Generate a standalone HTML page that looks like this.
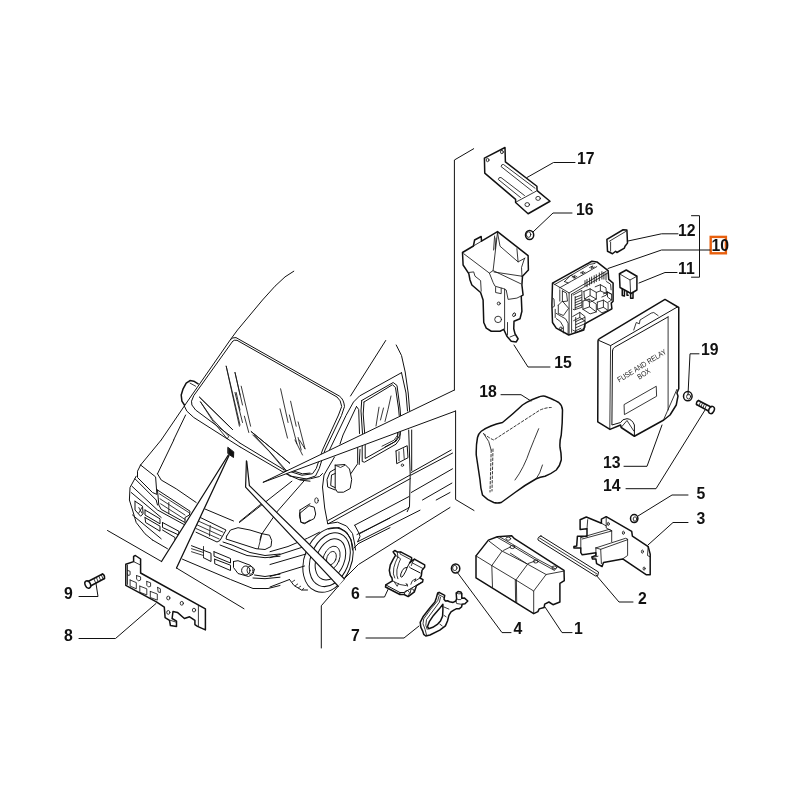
<!DOCTYPE html>
<html><head><meta charset="utf-8">
<style>
html,body{margin:0;padding:0;background:#fff;}
svg{display:block;}
text{font-family:"Liberation Sans",sans-serif;font-weight:bold;font-size:17px;fill:#111;}
.l{fill:none;stroke:#111;stroke-width:1;stroke-linecap:round;stroke-linejoin:round;}
.t{fill:none;stroke:#151515;stroke-width:0.85;stroke-linecap:round;stroke-linejoin:round;}
.b{fill:none;stroke:#111;stroke-width:1.5;stroke-linecap:round;stroke-linejoin:round;}
.w{fill:#fff;stroke:#111;stroke-width:1.5;stroke-linecap:round;stroke-linejoin:round;}
</style></head><body>
<svg width="800" height="800" viewBox="0 0 800 800">
<rect width="800" height="800" fill="#fff"/>
<!--LABELS-->
<g id="labels" style="opacity:0.999">
<text transform="translate(577,164) scale(.93,1)">17</text>
<text transform="translate(576,214.5) scale(.93,1)">16</text>
<text transform="translate(678,236) scale(.93,1)">12</text>
<text transform="translate(678,274) scale(.93,1)">11</text>
<text transform="translate(554.3,367.5) scale(.93,1)">15</text>
<text transform="translate(479.3,396.5) scale(.93,1)">18</text>
<text transform="translate(701,355) scale(.93,1)">19</text>
<text transform="translate(603,467.5) scale(.93,1)">13</text>
<text transform="translate(603,491) scale(.93,1)">14</text>
<text transform="translate(696.5,498.5) scale(.93,1)">5</text>
<text transform="translate(696.5,524) scale(.93,1)">3</text>
<text transform="translate(638,603.5) scale(.93,1)">2</text>
<text transform="translate(574,633.5) scale(.93,1)">1</text>
<text transform="translate(513.5,633.5) scale(.93,1)">4</text>
<text transform="translate(351,598.8) scale(.93,1)">6</text>
<text transform="translate(351,640.5) scale(.93,1)">7</text>
<text transform="translate(64,598.5) scale(.93,1)">9</text>
<text transform="translate(64,641) scale(.93,1)">8</text>
<rect x="710.7" y="236.9" width="15.2" height="16.4" fill="none" stroke="#e8600e" stroke-width="2.4"/>
<text transform="translate(711.5,251) scale(.93,1)">10</text>
</g>
<!--LEADERS-->
<g id="leaders" class="l">
<path d="M575 162.500H553.500L527 177.500"/>
<path d="M572 213H553L533 232"/>
<path d="M678 233.800H661.500L628 241"/>
<path d="M710 250H661.500L608 268.500"/>
<path d="M677 272.500H665L639 283"/>
<path d="M691.500 215.700H699.500V277.200H691.500"/>
<path d="M550 367H528L514 345"/>
<path d="M501 394.700H521L531 401"/>
<path d="M699 353.800H690L688 395"/>
<path d="M624 466.300H647L662 425"/>
<path d="M626 488.700H656L705 410"/>
<path d="M688 495H672L638 516"/>
<path d="M688 522.500H673L648 545"/>
<path d="M633 602H619L596 575"/>
<path d="M572 632.600H562L545 607"/>
<path d="M511 632.600H502L457 572"/>
<path d="M366 597H384.500L388 589.500"/>
<path d="M366 638H404L419 626"/>
<path d="M79 596.500H98L96 583.500"/>
<path d="M79 638.500H115.500L156 603.500"/>
</g>
<!--LONGLINES-->
<!--VAN-->
<g id="van">
<path class="l"  d="M293.8 271.2L285.0 276.9L275.0 286.2L262.5 300.0L250.0 315.0L237.5 330.0L230.6 339.4"/>
<path class="l" d="M230.600 339.400Q232.500 337.200 236 337.600L339.250 396Q343.750 399 344.500 406.500L341.500 415.500L325 450L319.250 468.500L315.500 476L306.500 479L290 476"/>
<path class="l" d="M232.400 341.400Q234 339.500 237 340.300L337 397Q341 400 341.700 406.500L338.500 415L322.500 450L316.250 468.500L312.500 473.750L302 475.250L290 471.500"/>
<path class="l"  d="M230.6 339.4L185.0 405.0L161.2 440.0M232.5 341.5L193.8 395.6L191.5 401.2L191.9 405.0L195.6 410.0L240.0 443.1M184.4 406.2L186.9 411.2L193.8 417.5L240.0 446.9M185.6 415.0L173.6 440.0"/>
<path class="b"  d="M198.1 383.8L193.8 381.2L190.0 380.6L186.2 383.1L183.1 388.8L181.2 395.0L181.9 401.2L184.4 405.0"/>
<path class="t"  d="M190.0 383.1L195.6 386.2M226.2 366.2L240.0 425.0M235.0 372.5L240.0 395.0M236.2 392.5L240.0 410.0"/>
<path class="t"  d="M226.2 366.2L239.4 426.2M235.0 372.5L242.5 405.0M235.0 392.5L242.5 422.5M241.2 386.2L250.6 426.2M244.4 416.2L248.8 432.5M280.6 388.8L288.1 422.5M280.0 408.8L287.5 438.1M290.6 401.2L296.2 426.2M289.4 415.0L296.9 443.8M298.1 421.9L305.0 448.8M298.1 437.5L301.2 450.0"/>
<path class="l"  d="M385.7 340.5L350.5 396.0M396.2 345.0L401.5 355.5L405.2 372.0L408.2 393.0L409.7 411.0M401.5 372.7L359.5 396.0L353.5 402.0L346.0 415.5L329.5 450.0M361.7 400.5L393.2 382.5L397.0 385.5L400.0 408.0L400.7 417.0L400.0 435.0L396.2 441.0L385.0 447.0M361.7 400.5L361.0 411.0L362.5 433.5M364.0 402.0L392.5 384.7L395.5 387.7L398.5 408.0L399.2 415.5M364.0 402.0L363.2 414.0L364.7 433.5M356.5 406.5L358.7 409.5L359.5 433.5M356.5 406.5L343.0 435.0L340.0 444.0M401.5 372.7L406.0 393.0L407.5 411.0"/>
<path class="t"  d="M379.0 407.2L376.0 426.0M383.5 408.0L380.5 420.0M391.0 396.0L388.0 409.5L385.0 421.5M397.7 426.0L397.7 435.0L394.0 440.2L382.0 446.2"/>
<path class="l"  d="M140.6 465.0L155.6 476.9L156.9 494.4L152.5 492.5L137.5 477.5L137.5 471.2L140.6 465.0M157.5 473.8L161.2 480.0L176.2 488.8L196.2 502.5M157.5 490.0L190.0 511.2L189.4 515.0L185.0 517.5L185.0 522.5L161.2 509.4L158.8 505.0L157.5 490.0M136.2 476.2L130.0 487.5L129.4 500.0L132.5 510.0L136.2 522.5L145.0 533.8L152.5 540.0M135.0 478.8L156.2 500.0L157.5 505.0M131.9 486.2L157.5 510.0L185.0 525.0M131.2 492.5L161.2 517.5M135.0 501.2L142.5 506.2L143.1 513.8L140.6 516.2L135.0 510.0L135.0 501.2M145.0 510.0L160.0 518.8L160.0 523.8L145.0 515.0L145.0 510.0M145.0 517.5L160.0 526.2L160.0 531.2L145.6 522.5L145.0 517.5M162.5 522.5L178.8 531.2L178.8 535.0L162.5 527.5L162.5 522.5M162.5 530.0L175.0 537.5L175.0 540.0M132.5 515.0L161.2 538.8"/>
<path class="t"  d="M159.4 493.8L188.8 512.5M160.0 498.8L185.0 515.0M160.6 503.8L185.0 519.4M168.8 502.5L168.8 513.8M138.8 507.5L141.9 513.1M138.8 513.1L141.9 507.5"/>
<path class="l"  d="M291.9 481.2L239.4 522.5M303.8 481.2L277.5 511.2L261.2 535.0L260.0 540.0M283.8 471.2L291.2 476.2L300.0 480.0L310.0 481.2M290.0 470.0L302.5 473.8L310.0 473.1M300.0 510.0L310.0 503.8M300.0 510.0L299.4 516.2L301.2 522.5L305.0 523.1L310.0 520.0"/>
<path class="t"  d="M295.0 440.0L302.5 455.0M299.4 440.0L305.0 448.8"/>
<path class="l"  d="M335.2 465.2L345.0 464.5L349.5 469.0L351.7 479.5L350.2 488.5L343.5 492.2L337.5 492.2L335.2 488.5L335.2 465.2M335.2 469.0L330.0 472.0L327.0 479.5L327.7 487.0L335.2 490.0M335.2 473.5L331.5 475.0L330.7 485.5L335.2 487.7M334.5 457.0L324.0 475.0L322.5 487.0L324.7 508.0L327.7 523.7M357.7 445.0L357.7 463.7L354.0 469.0L351.0 473.5M360.0 449.5L359.2 464.5M362.2 445.0L362.2 461.5L364.5 462.2L396.0 444.2L399.7 439.0L400.5 430.0M365.2 445.0L365.2 458.5L394.5 442.0L397.5 437.5L398.2 430.0M396.0 451.0L407.2 445.7L408.0 457.7L396.7 463.7L396.0 451.0M408.7 430.0L410.2 475.0L409.5 506.5L407.2 511.7M411.7 430.0L411.7 470.5M327.7 520.7L410.2 475.0M328.5 523.7L410.2 478.7M354.7 525.2L408.7 496.7M360.0 533.5L407.2 508.7L409.5 506.5M357.7 541.7L420.0 510.2M354.7 525.2L359.2 533.5L360.0 536.5L357.7 541.7M327.7 523.7L337.5 522.2L346.5 526.0L352.5 533.5L354.7 544.0L355.5 550.0M328.5 529.0L339.0 527.5L346.5 532.0L351.0 539.5L352.5 550.0M300.0 513.2L309.0 505.7L314.2 507.2L315.7 514.0L314.2 518.5L304.5 523.7L300.7 522.2L300.0 513.2M300.0 479.5L310.5 478.7L319.5 476.5L322.5 473.5"/>
<path class="t"  d="M399.0 451.7L399.0 460.7M403.5 448.7L404.2 458.5M335.2 465.2L340.5 467.5L345.0 465.2"/>
<ellipse class="t" cx="402.4" cy="465.2" rx="1.2" ry="1.2"/>
<ellipse class="t" cx="316.5" cy="500.5" rx="1.8" ry="2.700"/>
<g transform="rotate(22 328.0 560.0)">
<ellipse class="l" cx="328.0" cy="560.0" rx="23.5" ry="33.5"/>
<ellipse class="l" cx="329.5" cy="559.0" rx="19" ry="28"/>
<ellipse class="l" cx="330.0" cy="558.5" rx="14" ry="21.5"/>
<ellipse class="t" cx="330.5" cy="557.0" rx="8" ry="12.5"/>
<ellipse class="t" cx="330.5" cy="557.0" rx="4.5" ry="7"/>
</g>
<path class="l"  d="M289.5 579.5L294.0 585.5L301.5 590.0L307.5 590.0M358.5 543.5L390.0 527.7M354.0 548.0L358.5 543.5M357.0 534.5L390.0 518.0M270.0 551.7L288.0 546.5L307.5 538.2L319.5 532.2M270.0 557.7L304.5 546.5M270.0 564.5L306.0 554.0M270.0 576.5L304.5 566.0M270.0 587.0L289.5 579.5"/>
<path class="t"  d="M292.5 581.7L294.7 580.2M295.5 585.5L297.7 584.0M298.5 587.7L300.7 586.2M302.2 590.0L303.7 588.2"/>
<path class="l"  d="M411.2 472.5L451.2 450.0M411.2 475.0L452.5 453.1M411.2 492.5L452.5 468.8M422.5 500.0L451.9 483.1M436.2 500.0L450.0 492.5"/>
<path class="l"  d="M205.0 509.0L233.5 521.0M239.5 521.7L260.5 504.5M226.7 536.0L230.5 530.0L238.0 527.7L250.0 530.0L262.0 533.7L269.5 535.2L271.7 540.5L271.0 546.5L265.0 549.5L256.0 548.7L226.0 539.0L226.7 536.0M199.7 517.2L226.0 530.0L220.0 540.5L217.0 542.0L196.0 532.2M191.5 545.7L211.0 553.2L211.0 561.5L203.5 557.7M214.0 551.7L230.5 558.5L230.5 563.0L214.0 556.2L214.0 551.7M214.7 559.2L230.5 565.2L230.5 570.5L214.7 563.7L214.7 559.2M233.5 561.5L238.0 560.7L250.0 565.2L254.5 569.0L253.0 574.2L248.5 576.5L238.0 573.5L233.5 567.5L233.5 561.5M223.0 542.0L232.0 545.0L250.0 552.5L265.0 555.5L280.0 554.0M220.0 545.0L247.0 555.5L265.0 557.7L280.0 556.2M182.5 559.2L230.5 579.5L253.0 588.5L268.0 588.5L280.0 585.5M254.5 575.0L265.0 576.5L280.0 574.2M253.0 578.0L265.0 578.7L280.0 577.2"/>
<path class="t"  d="M198.2 521.0L223.0 532.2M196.7 524.7L221.5 536.0M196.0 528.5L219.2 539.0M210.2 525.5L209.5 536.0M262.0 533.7L258.2 548.7M203.5 546.5L203.5 557.7M191.5 548.7L203.5 552.5M191.5 551.7L203.5 555.5"/>
<ellipse class="l" cx="245.8" cy="570.5" rx="4.2" ry="4.5"/>
<ellipse class="t" cx="250.0" cy="570.2" rx="3" ry="4"/>
<path class="l"  d="M161.2 440.0L140.6 465.0M173.8 440.0L157.5 473.8"/>
<path class="l" stroke-width="1.700" stroke="#222" d="M199.5 397.2L232.5 429.5M251.2 431.6L289.7 463.2"/>
<path class="t" stroke="#ddd" stroke-width="0.400" d="M199.5 397.2L232.5 429.5M251.2 431.6L289.7 463.2"/>
<path class="t" stroke="#111" d="M200.5 401.9L212.9 419.7L228.7 436.2L227.3 439.0L212.9 421.1L200.5 401.9M252.7 434.9L269.2 451.4L283.0 467.9L285.7 469.9L272.0 454.1L254.1 434.9"/>
<path class="l" d="M240 443.100L284.400 470L290 471.500M240 446.900L283 472L290 476"/>
<path class="l" d="M152.500 540L167.500 548.750"/>
</g>
<g id="longlines" class="l">
<path fill="#fff" stroke="none" d="M454.400 390L262.900 482.400L455.600 411Z"/>
<path fill="#fff" stroke="none" d="M228.300 455L161.500 561.500L176.500 568L229 455.500Z"/>
<path fill="#fff" stroke="none" d="M246.400 460.900L245.600 487.100L338.250 586.250L344.250 578.750L249.400 485.600L246.750 461.250Z"/>
<path d="M473.700 148.700L454.400 160V390"/>
<path d="M455.600 411V499.500L474 510.500"/>
<path d="M454.400 390L262.900 482.400L455.600 411"/>
<path stroke-width="1.300" d="M228.300 455L161.500 561.500"/><path d="M161.500 561.500L107.500 530.500"/>
<path stroke-width="1.300" d="M229 455.500L176.500 568"/><path d="M176.500 568L244 608.750"/>
<path stroke-width="1.200" d="M246.400 460.900L245.600 487.100L338.250 586.250"/><path d="M338.250 586.250L321.300 605.750V648"/>
<path stroke-width="1.200" d="M246.750 461.250L249.400 485.600L344.250 578.750"/><path d="M344.250 578.750L358.500 564.500L450 507.500"/>
<path fill="#111" d="M228.100 447.500L233.750 451.900L233.500 457.500L228.100 453.750Z"/>
</g>
<!--PARTS-->
<g id="p17">
<path class="b" d="M484.400 158.100L505 147.500L505.400 161.900L536.900 186.250L537.100 190.600L550 201.250L528.100 213.750L515.600 202.500L515.600 199.400L484.750 173.100Z"/>
<path class="t" d="M516.500 201.800L536.200 191.200"/>
<path class="t" d="M535 188.200L503.500 164.500Q501.500 164 501 166.500L532 191"/>
<path class="t" d="M524.500 195.500L501 177.500Q498.500 177 498.300 179.500L520.500 197.500"/>
<ellipse class="t" cx="487.600" cy="160" rx="1.400" ry="1.700"/>
<ellipse class="t" cx="501.900" cy="152" rx="1.400" ry="1.700"/>
<ellipse class="t" cx="527.250" cy="204.600" rx="2.300" ry="2"/>
<ellipse class="t" cx="538.100" cy="198.400" rx="2.300" ry="2"/>
</g>
<g id="p15">
<path class="b" d="M462.500 252.500L473.400 246L474.600 240L481.200 236.500L481.500 241.200L497.500 231.600L528.100 255.600L528.400 270L522.500 276.250L521.900 285L523.100 295L521.250 296.250L521.900 311.250L520 318.750L514 321.250L513.750 328.750L515 333.750L518.100 338.750L516.250 341.900L511.250 341.250L506.900 336.250L503.750 329.400L500 331.250L491.250 331.250L486.250 328.100L483.750 322.500L483.100 300L480.600 292.500L471.900 285L470 280L468.800 273.700L463.100 265Z"/>
<path class="t" d="M473.400 246L481.500 241.200"/>
<path class="t" d="M463.700 253.700L489.400 273.100L493.100 270.600L497.500 232.500"/>
<path class="t" d="M497.500 232.500L500 246.200L518.100 261.900L525 258.100M516.900 248.700L518.100 261.900"/>
<path class="t" d="M494.600 236L493.600 250M496 238L495.200 249"/>
<path class="t" d="M493.100 270.600L520.600 283.700M494 272L522.500 276.300"/>
<path class="t" d="M489.400 273.100L493.100 282.500L495 286.200L503.700 288.700L506.200 290L508.100 299.400L516.900 298.100L521.900 295.600"/>
<path class="t" d="M495.600 287.500L495.600 292.500L501.200 293.700L501.200 288.200"/>
<path class="t" d="M504.600 289L504.600 329"/>
<path class="t" d="M468.700 272.500L473.700 271.900L475 276.200L480.600 280.600L481.200 291.200"/>
<path class="t" d="M507.500 322.500V335M510 337L515 335"/>
<path class="t" d="M524.500 258.400L521.500 267.500L522 276.500"/>
<ellipse class="t" cx="498.100" cy="319.400" rx="3.400" ry="3.200"/>
<ellipse class="t" cx="498.750" cy="303.500" rx="1.500" ry="1.500"/>
<ellipse class="t" cx="514.100" cy="314.750" rx="1.300" ry="2" transform="rotate(25 514.100 314.750)"/>
</g>
<g id="p10">
<path class="b" d="M552.500 283.100L591.900 261.250L596.900 261.900L608.100 270.600L608.750 279.400L613.100 283.100L613.100 301.250L611.250 303.100L611.900 308.750L608.750 310.600L585 323.750L583.750 330L568.750 335L556.250 328.100L552.500 322.500L551.900 305Z"/>
<path class="t"  d="M554.7 284.5L571.1 275.3L589.6 264.4L595.0 263.4M552.7 283.2L569.1 292.9L569.1 333.9M569.1 292.9L606.3 271.2M571.6 294.2L607.5 273.2M571.6 294.2L571.6 332.4M559.3 288.0L571.6 281.1L587.0 272.4L596.8 266.6M564.5 281.6L571.1 275.0L575.2 278.4M564.5 281.6L568.1 282.9M572.2 277.0L575.2 275.5L573.7 278.1L576.8 276.5M580.4 272.9L583.4 271.4L581.9 273.9L585.0 272.4M589.6 267.5L592.7 265.9L591.1 268.5L594.2 267.0M585.0 280.6L585.0 285.7M587.0 279.4L587.0 286.8M589.6 278.1L589.6 285.2M591.6 277.0L591.6 283.7M594.2 275.7L594.2 282.9M596.3 274.7L596.3 281.6M599.3 273.0L599.3 280.6M601.9 271.6L601.9 279.1M603.9 272.4L603.9 279.1M606.0 272.9L606.0 280.1M573.2 295.0L581.9 290.4L581.9 307.3L574.2 309.8L573.2 309.3M575.2 297.5L581.4 295.0M575.2 300.1L581.4 297.5M575.2 302.7L581.4 300.1M575.2 305.2L581.4 302.7M575.2 307.8L581.4 305.2M575.2 296.5L575.2 309.3M583.9 291.4L590.1 288.8L596.3 292.4L596.3 299.1L590.1 302.2L584.5 299.1L583.9 291.4M590.1 288.8L590.1 295.5L584.5 299.1M590.1 295.5L596.3 299.1M595.2 286.8L600.4 284.7L606.0 287.8L606.5 295.0L601.9 297.0M600.4 284.7L600.4 290.9L606.0 293.4M600.4 290.9L596.3 292.4M582.9 301.1L589.1 299.1L596.3 304.2L596.3 311.9L590.1 313.9L582.9 309.3L582.9 301.1M589.1 299.1L589.6 306.8L596.3 311.9M589.6 306.8L582.9 309.3M597.3 302.2L603.4 300.1L608.1 303.2L608.1 310.4L601.9 312.9L597.3 309.3L597.3 302.2M603.4 300.1L603.4 307.3L608.1 310.4M603.4 307.3L597.3 309.3M606.5 291.9L611.6 294.2L611.6 300.1L608.1 302.2M603.4 293.9L607.5 291.9L611.6 294.2M607.5 291.9L607.5 297.0L611.6 300.1M606.5 281.6L610.6 284.2L611.1 289.8M572.7 316.5L579.8 312.4L585.0 316.5L585.0 327.8L576.8 332.4L572.9 330.1M579.8 312.4L579.8 317.5L585.0 321.1M579.8 317.5L573.7 320.6M575.7 321.6L584.5 317.5M575.7 324.7L584.5 320.8M575.7 327.8L584.5 323.9M575.7 330.7L580.9 328.3M575.7 317.5L575.7 331.4M556.3 313.4L561.4 316.5L565.5 318.8L568.1 323.2L568.1 334.5M558.3 305.2L562.4 301.1L568.6 308.3L563.4 315.5L558.3 313.4L558.3 305.2M559.8 289.8L559.8 301.1M562.4 290.9L566.5 293.1L567.5 301.1L562.4 301.6L562.4 290.9M552.7 298.1L554.0 299.1L554.4 306.3L552.7 307.3M556.3 318.6L560.4 321.6L563.4 326.8L563.4 332.9M555.2 309.3L555.2 317.5"/>
<ellipse class="t" cx="560.9" cy="328.3" rx="1.3" ry="1.3"/>
<!--P10INNER-->
</g>
<g id="p13">
<path class="b" stroke-width="1.800" d="M598 341Q598 339.400 599.500 338.600L665 299.400L678.750 307.500L678.750 388.750L676.900 393L678 396L676.250 405L670 415L663.750 420L634.400 436.250L621.200 427.500L620.600 425L610 429.400L597.750 421.900Z"/>
<path class="l" d="M599 340.500L610.600 345.600L677.500 306.900"/>
<path class="l" d="M612.500 351Q612.500 348.500 614.500 347.300L668.100 316.900"/>
<path class="l" d="M612.500 351L611.900 425L620.600 422.500Q622 419 627 418.700Q632 419 634.400 425L634.400 435.600"/>
<path class="t" d="M610.600 345.600L609.800 428.800"/>
<path class="t" stroke="#999" d="M668.100 316.900L668.100 410"/>
<path class="t" d="M676.900 389.400L663.750 419.400"/>
<path class="t" d="M633.750 330L636.250 322.500L639.400 323.750L640 320L651.250 313.100L653.750 312.500L658.100 315.600"/>
<path class="t" d="M624.400 404.400L656.250 386.250L656.600 396.250L624.750 414.400Z"/>
<path class="t" d="M621.500 427L627 420.500L633.800 431"/>
<g transform="translate(619.300,382.600) rotate(-31.800)" style="font-weight:normal;opacity:0.999"><text x="0" y="0" style="font-size:7.600px;font-weight:normal;fill:#222" textLength="56" lengthAdjust="spacingAndGlyphs">FUSE AND RELAY</text><text x="18.500" y="8" style="font-size:7.600px;font-weight:normal;fill:#222" textLength="14" lengthAdjust="spacingAndGlyphs">BOX</text></g>
</g>
<g id="p18">
<path class="b" d="M481.250 431.250Q490 425 502.500 422.500Q513 414 522.500 405Q530 400 537.500 397.500Q542 395.500 545 396.250Q553 399 558.750 402.500Q562 405 562.500 410Q562.500 423 561.250 435Q559.500 441 560 447.500Q561.500 454 561.250 460Q560 466 556.250 470Q551 474 545 476.250Q540 477 536.250 478.750Q525 485 515 492.500L501.250 502.500Q497 503.500 493.750 502.500Q487 500 482.500 495Q480.500 488 480 480L476.250 455Q476 445 477.500 437.500Q478.500 433.500 481.250 431.250Z"/>
<path class="t" stroke="#555" stroke-dasharray="2.500 2" d="M483.700 433.700Q489 438 493.700 440L540 410Q546 407.500 551.200 407.500"/>
<path class="t" stroke="#555" stroke-dasharray="2.500 2" d="M491.200 450L490 492M493 449L492 491"/>
<path class="t" stroke="#555" d="M483.700 433.700Q490 441 491.200 450"/>
<path class="t" stroke="#555" d="M538.700 428.700Q534 440 530 450Q524 468 515 480M542.500 465Q540 474 536.250 478.750"/>
</g>
<g id="p1">
<path class="b"  d="M476.0 555.9L488.4 540.1L497.3 536.7L511.7 535.7L514.5 538.7L564.0 570.4L564.3 580.7L559.9 583.4L559.9 602.0L553.0 604.7L548.9 602.0L544.7 604.1L544.1 607.5L539.2 608.9L537.9 611.6L533.7 613.7L476.0 577.9Z"/>
<path class="t" stroke="#444" d="M476.0 555.9L491.8 565.6L515.9 580.0L533.7 591.0L533.7 613.0M491.8 565.6L492.5 587.1M515.3 579.7L515.6 602.0M516.4 580.3L516.7 602.7M491.8 565.6L502.1 551.1L489.1 541.2M515.9 580.0L527.6 564.2L510.4 553.2M533.7 591.0L546.1 574.5L564.0 571.1M502.1 551.1L527.6 564.2L546.1 574.5M497.3 537.4L511.7 545.6L535.8 560.1L554.4 570.4M499.4 536.7L512.4 544.2L536.5 558.7L555.7 569.0M503.5 550.4L510.4 547.0M528.2 563.5L535.1 561.0"/>
<ellipse class="t" cx="508.3" cy="538.7" rx="2.4" ry="1.6"/>
<ellipse class="t" cx="512.4" cy="547.0" rx="2.4" ry="1.6"/>
<ellipse class="t" cx="535.8" cy="561.4" rx="2.4" ry="1.6"/>
<ellipse class="t" cx="554.4" cy="567.6" rx="2.4" ry="1.6"/>
</g>
<g id="p2"><path class="l" fill="#ccc" d="M541 536L598.500 572L597.800 575.500L595.500 576L538 540Q537.500 536.500 541 536Z"/><path class="t" stroke="#666" d="M539.500 538L597 574"/></g>
<g id="p3">
<path class="b"  d="M580.1 519.7L586.3 517.0L601.4 523.2L601.4 519.1L606.2 516.7L631.7 531.4L632.4 536.2L648.2 546.6L650.2 554.1L650.2 574.7L646.1 574.7L622.7 558.9L603.5 562.4L602.1 566.5L596.6 563.7L595.9 558.9L592.5 558.9L591.8 556.9L595.9 555.5L595.9 552.7L582.2 554.8L580.8 552.7L580.8 547.9L573.9 547.9L573.9 546.6L576.7 545.9L577.4 536.2L587.0 536.2L587.0 528.7L580.1 529.4Z"/>
<path class="t"  d="M580.8 537.6L609.0 529.4L611.7 530.7L611.7 541.7M580.8 537.6L580.8 547.9M582.2 539.0L611.7 531.0M595.9 547.9L625.5 538.3L627.6 539.0L627.6 555.5L622.7 558.9M595.9 547.9L595.9 555.5M595.9 547.9L600.7 549.3L627.6 539.7M600.7 549.3L601.4 563.7M587.0 528.7L587.7 519.7M601.4 523.2L606.2 525.9L606.2 528.0L611.7 530.7M606.2 516.7L606.2 525.9M648.2 546.6L647.5 555.5L650.2 556.9M598.0 556.2L592.5 557.6"/>
<ellipse class="t" cx="608.3" cy="523.9" rx="1" ry="1.6"/>
<ellipse class="t" cx="623.4" cy="532.8" rx="1" ry="1.6"/>
<ellipse class="t" cx="642.4" cy="551.6" rx="1" ry="1.6"/>
<ellipse class="t" cx="644.1" cy="568.6" rx="1" ry="1.6"/>
</g>
<g id="p6">
<path class="b"  d="M393.1 551.9L394.8 550.5L397.2 551.9L400.6 551.9L411.6 557.7L411.6 559.8L409.6 562.9L414.4 559.1L424.7 564.9L424.7 567.0L422.0 570.4L421.3 575.9L419.9 578.0L423.0 579.7L422.6 581.8L416.5 585.6L414.4 591.8L408.2 596.6L404.1 594.5L399.9 594.5L385.5 587.0L385.8 584.9L392.4 580.8L392.0 578.0L390.3 575.3L389.3 570.4L390.3 564.9L393.1 559.4L395.5 555.3Z"/>
<path class="l" stroke-width="1.200" d="M409.6 562.9L407.2 567.4L404.4 568.0L402.4 570.4L400.8 573.9L400.6 576.6L401.9 577.2L403.7 574.9L405.8 571.1L407.2 567.4M409.2 566.7L410.6 568.0L420.2 572.9M385.8 584.9L399.9 592.5L404.1 592.5L422.6 581.8M399.9 592.5L399.9 594.5"/>
<path class="t"  d="M395.5 555.3L397.9 557.0L395.5 562.2L393.8 567.7L393.4 573.9L394.8 578.0M397.2 551.9L397.9 557.0M400.6 551.9L399.9 553.9L410.3 559.4M397.9 557.0L400.6 558.8L398.6 563.6L396.9 569.8L396.9 575.3L397.9 578.7M414.4 559.1L412.3 562.9L423.3 568.7M412.3 562.9L411.3 565.6M404.1 594.5L405.4 591.1L407.5 590.4L409.6 592.5L408.2 596.6M410.3 593.1L410.9 589.0L413.0 589.0L414.4 591.8M394.4 582.1L397.2 586.3L398.6 583.5M406.1 583.5L407.5 586.3L407.2 584.2M410.9 584.2L412.3 580.8L415.8 578.7L415.1 580.8M392.4 580.8L399.9 584.5L406.1 585.6M419.9 578.0L414.4 581.5"/>
</g>
<g id="p7">
<path class="b"  d="M437.7 593.0L439.1 592.3L444.7 595.4L444.0 599.3L445.4 601.0L447.5 600.7L449.6 601.7L453.1 602.4L455.9 601.0L456.6 598.6L456.2 593.0L458.0 591.6L460.8 591.9L461.8 593.7L461.8 598.2L464.3 597.9L467.8 601.0L465.0 603.8L462.2 604.2L461.5 607.0L459.4 608.7L456.6 608.7L453.8 610.1L451.0 611.9L448.9 615.4L447.5 621.0L445.4 625.9L439.8 630.1L430.0 635.0L425.8 636.0L423.7 634.3L422.6 630.8L420.9 627.3L420.2 622.4L423.0 616.8L430.0 607.7L434.9 602.1L436.3 597.9Z"/>
<path class="b"  d="M442.9 604.2L439.1 609.1L433.5 615.4L429.3 621.7L427.5 626.6L428.6 628.7L432.8 627.3L437.7 624.1L440.5 621.0L442.6 616.1L442.9 609.8Z"/>
<path class="t"  d="M439.1 595.8L437.7 600.7L430.7 609.1L423.7 618.9L423.0 623.8L425.1 629.4L426.5 635.0M440.5 597.2L439.4 602.1L426.5 619.6L425.8 625.2L427.2 629.4M444.0 607.0L448.9 609.1M444.0 615.4L446.1 616.8M439.8 624.1L442.2 625.9M456.6 598.6L458.0 599.6L460.8 599.6L461.8 598.2M456.2 593.0L458.7 593.8L461.8 593.7M455.9 601.0L456.6 603.5L460.8 604.2L462.2 604.2M439.1 592.3L438.4 594.4L444.0 597.5"/>
</g>
<g id="p8">
<path class="b"  d="M125.8 564.3L133.6 561.6L133.6 556.4L135.4 555.5L140.6 559.0L140.6 573.0L205.4 608.9L205.4 629.9L197.5 626.4L194.9 624.6L194.9 620.3L189.6 616.8L184.4 618.5L177.4 612.4L173.0 611.5L172.1 618.5L176.5 621.1L176.5 626.4L170.4 625.5L169.5 620.3L165.1 617.6L164.3 607.1L156.4 601.9L125.8 585.3Z"/>
<path class="t"  d="M198.4 605.4L198.4 626.4M133.6 561.6L140.6 565.1M127.5 565.1L127.5 584.4M130.1 580.0L136.3 582.6L136.3 588.8L130.1 586.1L130.1 580.0M139.8 586.1L146.8 588.8L146.8 594.9L139.8 592.3L139.8 586.1M150.3 591.4L157.3 594.0L157.3 600.1L150.3 597.5L150.3 591.4M127.5 570.4L130.1 571.3L130.1 574.8L128.4 575.6L127.5 573.9M136.6 575.6L140.6 576.9L140.6 580.0L138.4 580.9L136.6 579.1L136.6 575.6M146.8 581.4L150.6 582.8L150.6 586.3L148.5 587.0L146.8 585.3L146.8 581.4M157.6 587.4L160.4 588.8L160.4 592.6L158.1 591.9L157.6 587.4M170.4 620.3L175.6 622.0"/>
<ellipse class="t" cx="168.3" cy="598.0" rx="1.6" ry="1.9"/>
<ellipse class="t" cx="181.8" cy="603.3" rx="1.6" ry="1.9"/>
<ellipse class="t" cx="194.0" cy="610.1" rx="1.6" ry="1.9"/>
<ellipse class="t" cx="168.3" cy="612.4" rx="1.6" ry="1.9"/>
</g>
<g id="p16">
<ellipse class="b" stroke-width="1.700" cx="529.600" cy="235" rx="4.100" ry="4.500"/>
<ellipse class="t" cx="528.600" cy="234.600" rx="2.200" ry="2.800"/>
</g>
<g id="p19">
<ellipse class="b" stroke-width="1.700" cx="687.800" cy="396.200" rx="4.300" ry="4.600"/>
<ellipse class="t" cx="688.600" cy="396.600" rx="2" ry="2.400"/>
</g>
<g id="p5">
<ellipse class="b" stroke-width="1.700" cx="634.200" cy="518.600" rx="3.700" ry="4"/>
<ellipse class="t" cx="635" cy="519" rx="1.800" ry="2.200"/>
</g>
<g id="p4">
<ellipse class="b" stroke-width="1.700" cx="455.600" cy="568.500" rx="4.200" ry="4.400"/>
<ellipse class="t" cx="454.800" cy="568" rx="2.200" ry="2.600"/>
</g>
<g id="p14">
<path class="b" d="M698.500 400.500L711 407M696.500 404.500L708.500 411"/>
<path class="b" d="M698.500 400.500Q696 401.500 696.500 404.500"/>
<path class="t" d="M700.500 402L699 405.500M702.500 403L701 406.500M704.500 404L703 407.500M706.500 405L705 408.500"/>
<ellipse class="b" cx="711.500" cy="410" rx="2.600" ry="3.800" transform="rotate(25 711.500 410)"/>
</g>
<g id="p9">
<path class="b" d="M88 581.500L102.500 574M90.500 586L104.500 578.500"/>
<path class="b" d="M102.500 574Q105 575 104.500 578.500"/>
<path class="t" d="M94 579L95.500 582.500M96.500 577.800L98 581.300M99 576.500L100.500 580M101.500 575.300L103 578.800"/>
<ellipse class="b" cx="87.800" cy="584.500" rx="2.600" ry="3.900" transform="rotate(-25 87.800 584.500)"/>
</g>
<g id="p12">
<path class="b" d="M606.900 239.400L623.100 229.750L626.900 230L627.500 243.100L625 246.250L624.400 248.100L616.900 252.500L615.600 251.250L612.500 253.750L607.500 251.250Z"/>
<path class="t" d="M609.400 241.200L626.200 231.200M610.600 242V251.200"/>
</g>
<g id="p11">
<path class="b" d="M619.400 273.750L626.250 270L636.900 276.250L636.900 290L631 293.500L620 287.500Z"/>
<path class="t" d="M619.400 273.750L630 280L636.900 276.250M630 280L630.600 293"/>
<path class="b" d="M622.250 289V295.600L624.400 296V290.500M627 292V295.200L628.200 295.200M630.600 293.500V298.200L633 298.200V292.500"/>
</g>
</svg>
</body></html>
